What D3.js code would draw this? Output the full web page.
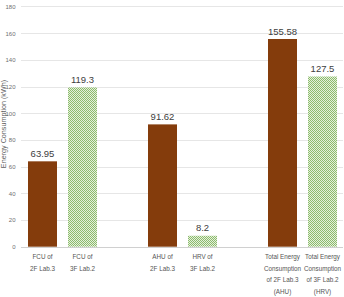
<!DOCTYPE html>
<html><head><meta charset="utf-8">
<script src="https://cdn.jsdelivr.net/npm/d3@7"></script>
<style>body{margin:0;background:#fff}svg{display:block}</style>
</head><body>
<script>
const slots = ["s1","s2","gap1","s3","s4","gap2","s5","s6"];
const categories = [
  ["FCU of","2F Lab.3"],
  ["FCU of","3F Lab.2"],
  ["AHU of","2F Lab.3"],
  ["HRV of","3F Lab.2"],
  ["Total Energy","Consumption","of 2F Lab.3","(AHU)"],
  ["Total Energy","Consumption","of 3F Lab.2","(HRV)"]
];
const values = [63.95, 119.3, 91.62, 8.2, 155.58, 127.5];
const series = ["brown","green","brown","green","brown","green"];
const valueLabels = ["63.95","119.3","91.62","8.2","155.58","127.5"];
const yTicks = [0,20,40,60,80,100,120,140,160,180];
const yTitle = "Energy Consumption (kWh)";

const W = 344, H = 297;
const svg = d3.select("body").append("svg").attr("width", W).attr("height", H);
const defs = svg.append("defs");
const pat = defs.append("pattern").attr("id","chk").attr("patternUnits","userSpaceOnUse")
  .attr("width",2).attr("height",2);
pat.append("rect").attr("width",2).attr("height",2).attr("fill","#e4f0dc");
pat.append("rect").attr("width",1).attr("height",1).attr("fill","#8dbb6c");
pat.append("rect").attr("x",1).attr("y",1).attr("width",1).attr("height",1).attr("fill","#8dbb6c");

const x = d3.scaleBand().domain(slots).range([22.5, 342.5]).paddingInner(0.275).paddingOuter(0.1375);
const y = d3.scaleLinear().domain([0,180]).range([246.7, 6.4]);

// gridlines
svg.append("g").selectAll("line").data(yTicks).join("line")
  .attr("x1", 21).attr("x2", 343)
  .attr("y1", d => Math.round(y(d))+0.5).attr("y2", d => Math.round(y(d))+0.5)
  .attr("stroke", d => d===0 ? "#d0d0d0" : "#e6e6e6").attr("stroke-width",1);

// y axis labels
const yAxis = d3.axisLeft(y).tickValues(yTicks).tickSize(0).tickPadding(0);
const ga = svg.append("g").attr("transform","translate(15.5,0)").call(yAxis);
ga.select(".domain").remove();
ga.selectAll("text").attr("font-family","Liberation Sans, Arial, sans-serif")
  .attr("font-size","6px").attr("fill","#707070");

// y title
svg.append("text").attr("transform","translate(6,124) rotate(-90)")
  .attr("text-anchor","middle").attr("font-family","Liberation Sans, Arial, sans-serif")
  .attr("font-size","7.2px").attr("fill","#606060").text(yTitle);

const barSlots = ["s1","s2","s3","s4","s5","s6"];
const data = values.map((v,i)=>({v, slot: barSlots[i], s: series[i], lab: valueLabels[i], cat: categories[i]}));

svg.append("g").selectAll("rect").data(data).join("rect")
  .attr("x", d => x(d.slot)).attr("width", x.bandwidth())
  .attr("y", d => y(d.v)).attr("height", d => y(0) - y(d.v))
  .attr("fill", d => d.s === "brown" ? "#843c0c" : "url(#chk)");

svg.append("g").selectAll("text").data(data).join("text")
  .attr("x", d => x(d.slot) + x.bandwidth()/2).attr("y", d => y(d.v) - 4.5)
  .attr("text-anchor","middle").attr("font-family","Liberation Sans, Arial, sans-serif")
  .attr("font-size","9.5px").attr("fill","#404040").text(d => d.lab);

const cg = svg.append("g").selectAll("text").data(data).join("text")
  .attr("x", d => x(d.slot) + x.bandwidth()/2)
  .attr("text-anchor","middle").attr("font-family","Liberation Sans, Arial, sans-serif")
  .attr("font-size","6.3px").attr("fill","#555");
cg.each(function(d){
  d3.select(this).selectAll("tspan").data(d.cat).join("tspan")
    .attr("x", x(d.slot) + x.bandwidth()/2)
    .attr("y", (t,i) => 259 + i*11.6).text(t => t);
});
</script>
</body></html>
